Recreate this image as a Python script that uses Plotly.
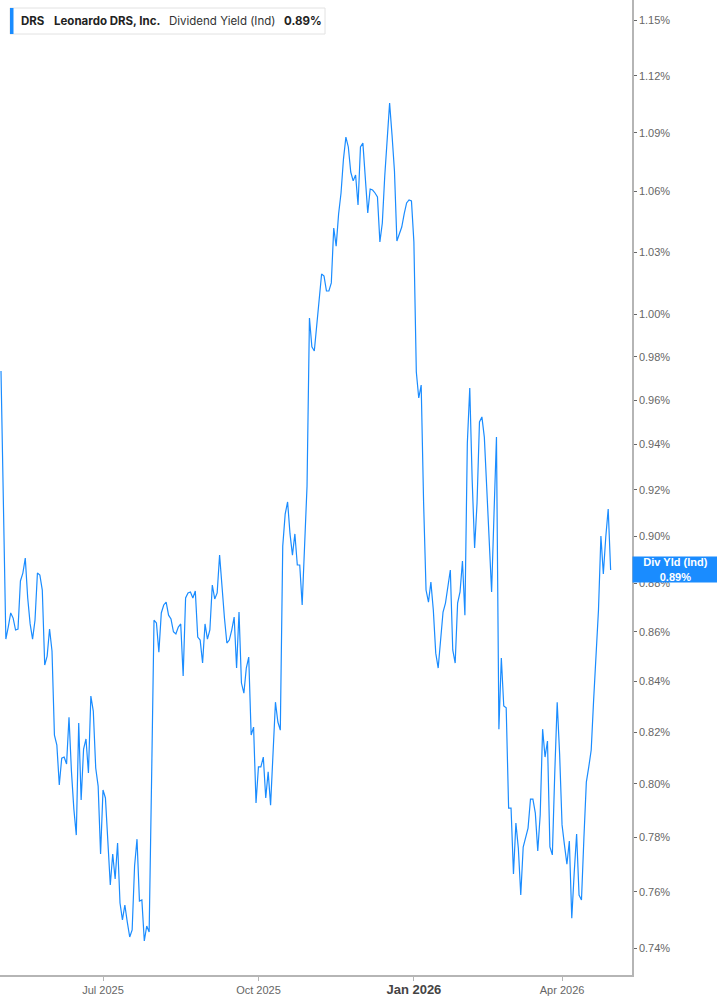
import pandas as pd
import numpy as np
import plotly.graph_objects as go

# ---- data ----
ticker = "DRS"
company = "Leonardo DRS, Inc."
metric = "Dividend Yield (Ind)"
short_metric = "Div Yld (Ind)"

holidays = ["2025-05-26", "2025-06-19", "2025-07-04", "2025-09-01", "2025-11-27",
            "2025-12-25", "2026-01-01", "2026-01-19", "2026-02-16", "2026-04-03"]

# dividend yield (%) per trading day, 2025-04-30 .. 2026-04-30
yield_pct = [
    0.9734, 0.9133, 0.857, 0.862, 0.8677, 0.8656, 0.8607, 0.8611, 0.881, 0.8843, 0.8906, 0.8739,
    0.8632, 0.857, 0.8647, 0.8843, 0.8835, 0.8772, 0.8465, 0.8501, 0.8611, 0.8522,
    0.8188, 0.8149, 0.7996, 0.8099, 0.8103, 0.8076, 0.8258, 0.8049, 0.7905, 0.7808,
    0.8235, 0.7939, 0.8134, 0.8173, 0.8042, 0.8341, 0.8282, 0.8061, 0.7992, 0.7738,
    0.7977, 0.7947, 0.7764, 0.7625, 0.7738, 0.7647, 0.7779, 0.756, 0.75, 0.7553,
    0.7492, 0.7439, 0.7464, 0.7694, 0.7793, 0.7567, 0.7571, 0.7425, 0.7478, 0.7457,
    0.8015, 0.8647, 0.8636, 0.8517, 0.8677, 0.871, 0.8722, 0.8668, 0.8652, 0.86,
    0.8591, 0.8619, 0.8632, 0.8421, 0.8739, 0.876, 0.8764, 0.8739, 0.8768, 0.8578,
    0.8566, 0.8473, 0.8632, 0.857, 0.8607, 0.8793, 0.8735, 0.876, 0.8919, 0.8772,
    0.8656, 0.8554, 0.8566, 0.8607, 0.866, 0.8453, 0.8681, 0.8393, 0.8353, 0.8453,
    0.8497, 0.8188, 0.8219, 0.7928, 0.8065, 0.8065, 0.8103, 0.7947, 0.8046, 0.792,
    0.8103, 0.8317, 0.8239, 0.8207, 0.8957, 0.9094, 0.9147, 0.9009, 0.8919, 0.9009,
    0.8877, 0.8877, 0.871, 0.8949, 0.9216, 0.9982, 0.9846, 0.9827, 0.9954, 1.0068,
    1.0193, 1.0183, 1.0111, 1.0111, 1.015, 1.0418, 1.0329, 1.0488, 1.0593, 1.0765,
    1.0878, 1.0827, 1.0699, 1.0654, 1.0684, 1.0533, 1.0827, 1.0847, 1.0669, 1.0493,
    1.0613, 1.0608, 1.0593, 1.0573, 1.0349, 1.0443, 1.0679, 1.0847, 1.1055, 1.0889,
    1.0704, 1.0354, 1.0393, 1.0423, 1.0488, 1.0543, 1.0558, 1.0553, 1.0349, 0.9729,
    0.961, 0.9669, 0.9142, 0.8772, 0.8722, 0.8805, 0.8689, 0.8513, 0.8453, 0.8578,
    0.8681, 0.8718, 0.8785, 0.8856, 0.8526, 0.8473, 0.8718, 0.8764, 0.8894, 0.8668,
    0.9406, 0.9656, 0.9243, 0.8949, 0.9142, 0.9501, 0.9524, 0.9433, 0.9207, 0.8996,
    0.8764, 0.9099, 0.9433, 0.8211, 0.8493, 0.8302, 0.8295, 0.7909, 0.7909, 0.7665,
    0.7853, 0.776, 0.7589, 0.7764, 0.7797, 0.7834, 0.7943, 0.7943, 0.789, 0.7749,
    0.7883, 0.8211, 0.8103, 0.8165, 0.7764, 0.7735, 0.8042, 0.8317, 0.8115, 0.7846,
    0.7771, 0.7701, 0.7786, 0.7506, 0.7669, 0.7812, 0.7589, 0.7571, 0.7797, 0.8007,
    0.8065, 0.813, 0.8325, 0.8538, 0.8689, 0.90, 0.8839, 0.8996, 0.9116, 0.8856,
]

y_tick_vals = [0.74, 0.76, 0.78, 0.80, 0.82, 0.84, 0.86, 0.88, 0.90, 0.92, 0.94,
               0.96, 0.98, 1.00, 1.03, 1.06, 1.09, 1.12, 1.15]
x_tick_dates = ["2025-07-01", "2025-10-01", "2026-01-02", "2026-04-01"]
x_tick_text = ["Jul 2025", "Oct 2025",
               "<span style='font-size:13px;fill:#444'><b>Jan 2026</b></span>", "Apr 2026"]

# ---- build ----
all_days = pd.bdate_range("2025-04-30", "2026-05-15", freq="C", holidays=holidays)
dates = [d.strftime("%Y-%m-%d") for d in all_days[:len(yield_pct)]]
last_val = yield_pct[-1]

BLUE = "#1a8cff"
W, H = 717, 1005
ML, MR, MT, MB = 0, 85, 0, 30
PW, PH = W - ML - MR, H - MT - MB

def px(x):
    return x / PW

def py(y):
    return 1 - y / PH

fig = go.Figure()
fig.add_trace(go.Scatter(x=dates, y=yield_pct, mode="lines",
                         line=dict(color=BLUE, width=1.2), hoverinfo="skip"))

fig.update_layout(
    width=W, height=H,
    margin=dict(l=ML, r=MR, t=MT, b=MB, pad=0),
    paper_bgcolor="white", plot_bgcolor="white",
    showlegend=False,
    font=dict(family="Liberation Sans, Arial, sans-serif", size=11, color="#666"),
    xaxis=dict(type="category", range=[-0.41, 259.8], showgrid=False, zeroline=False,
               showline=True, linecolor="#b5b5b5", linewidth=1.5,
               ticks="outside", ticklen=4, tickcolor="#b5b5b5",
               tickmode="array", tickvals=x_tick_dates, ticktext=x_tick_text,
               tickfont=dict(size=11, color="#666")),
    yaxis=dict(type="log", side="right",
               range=[np.log10(0.7306), np.log10(1.161)],
               showgrid=False, zeroline=False,
               showline=True, linecolor="#b5b5b5", linewidth=1.5,
               ticks="outside", ticklen=3, tickcolor="#666",
               tickmode="array", tickvals=y_tick_vals,
               ticktext=[f"{v:.2f}%" for v in y_tick_vals],
               tickfont=dict(size=11, color="#666")),
)

# legend box
fig.add_shape(type="rect", xref="paper", yref="paper",
              x0=px(10), x1=px(325), y0=py(34), y1=py(8),
              line=dict(color="#e2e2e2", width=1), fillcolor="white", layer="above")
fig.add_shape(type="rect", xref="paper", yref="paper",
              x0=px(10), x1=px(13.5), y0=py(34), y1=py(8),
              line=dict(width=0), fillcolor=BLUE, layer="above")

legend_items = [
    (19, f"<b>{ticker}</b>", "#222"),
    (51.5, f"<b>{company}</b>", "#222"),
    (166.5, metric, "#333"),
    (281.5, f"<b>{last_val:.2f}%</b>", "#222"),
]
for x, t, c in legend_items:
    fig.add_annotation(xref="paper", yref="paper", x=px(x), y=py(21.5),
                       xanchor="left", yanchor="middle", showarrow=False, text=t,
                       font=dict(family="Inter, Noto Sans, sans-serif", size=11.5, color=c))

# last value tag on the right axis
fig.add_annotation(xref="paper", yref="y", x=1.0, y=np.log10(last_val),
                   xanchor="left", yanchor="middle", showarrow=False,
                   text=f"<b>{short_metric}</b><br><b>{last_val:.2f}%</b>",
                   font=dict(family="Liberation Sans, Arial, sans-serif", size=11, color="white"),
                   bgcolor=BLUE, width=83, height=23, borderpad=1, align="center")

fig.write_html("out.html", config={"displayModeBar": False},
               post_script="document.body.style.margin='0';document.body.style.overflow='hidden';")
